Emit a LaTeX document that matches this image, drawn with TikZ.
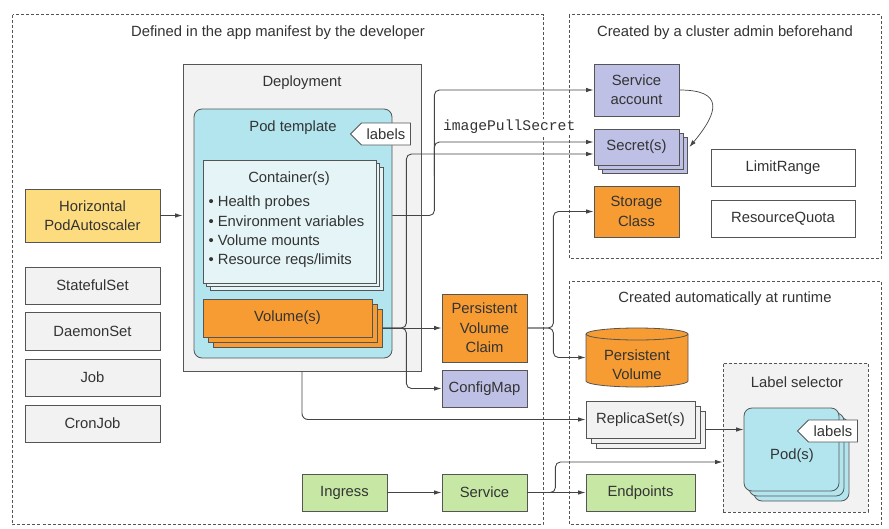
\documentclass[tikz,border=0pt]{standalone}
\usepackage{fontspec}
\setmainfont{Liberation Sans}
\setmonofont{Liberation Mono}
\usetikzlibrary{arrows.meta,shadows,shapes.symbols}

\definecolor{boxgray}{HTML}{F2F2F2}
\definecolor{edgegray}{HTML}{555555}
\definecolor{linegray}{HTML}{444444}
\definecolor{txtgray}{HTML}{333333}
\definecolor{podcyan}{HTML}{B3E5EE}
\definecolor{contcyan}{HTML}{E5F5F7}
\definecolor{volorange}{HTML}{F69C33}
\definecolor{hpayellow}{HTML}{FDDC80}
\definecolor{lavender}{HTML}{BEC0E6}
\definecolor{svcgreen}{HTML}{C6E8A4}

\tikzset{
  every node/.style={font=\fontsize{14.8}{19.3}\selectfont, text=txtgray},
  outline/.style={draw=edgegray, line width=0.8pt},
  box/.style={outline, inner sep=0pt, align=center},
  wh/.style 2 args={minimum width=#1pt, minimum height=#2pt},
  area/.style={draw=edgegray, line width=0.8pt, dash pattern=on 3pt off 2pt},
  tag/.style={shape=signal, signal to=west, outline, fill=white, minimum width=60pt, minimum height=22pt, inner sep=2pt},
  stackthin/.style={copy shadow={shadow xshift=7pt,shadow yshift=-7pt}, copy shadow={shadow xshift=3.5pt,shadow yshift=-3.5pt}},
  stacksec/.style={copy shadow={shadow xshift=8pt,shadow yshift=-8pt}, copy shadow={shadow xshift=4pt,shadow yshift=-4pt}},
  stackwide/.style={copy shadow={shadow xshift=10pt,shadow yshift=-10pt}, copy shadow={shadow xshift=5pt,shadow yshift=-5pt}},
  arr/.style={draw=linegray, line width=0.9pt, -{Latex[length=7.5pt,width=4.5pt]}},
  arrthin/.style={draw=linegray, line width=0.7pt, -{Latex[length=7pt,width=4.5pt]}},
  mono/.style={font=\fontsize{14.7}{17}\ttfamily, fill=white, inner sep=1pt}
}

\begin{document}
\begin{tikzpicture}[x=1pt,y=-1pt]
\useasboundingbox (0,0) rectangle (889,528);
%areas
\draw[area] (12.5,14.5) rectangle (543,524.5);
\draw[area] (569,14.5) rectangle (881,258);
\draw[area] (569,281) rectangle (881,524.5);
\node (devtitle) at (278,33) {Defined in the app manifest by the developer};
\node (admintitle) at (725,33) {Created by a cluster admin beforehand};
\node (autotitle) at (725,299) {Created automatically at runtime};

%deployment and pod template
\node[box, fill=boxgray, wh={238}{307}] (deploy) at (302,217.5) {};
\node (deploytxt) at (302,83) {Deployment};
\node[box, fill=podcyan, rounded corners=8pt, wh={198}{249}] (podtpl) at (293,233.5) {};
\node (podtpltxt) at (293,128) {Pod template};
\node[tag] (tpllabels) at (386,134) {labels};
\node[box, fill=contcyan, stackthin, wh={173}{123}] (cont) at (289.5,221.5) {};
\node (conttxt) at (289,179) {Container(s)};
\node[anchor=west, align=left] (contlist) at (205,232) {• Health probes\\• Environment variables\\• Volume mounts\\• Resource reqs/limits};
\node[box, fill=volorange, stackwide, wh={169}{38}] (vol) at (287.5,318) {Volume(s)};

%left column
\node[box, fill=hpayellow, wh={135}{53}] (hpa) at (92.5,215.5) {Horizontal\\PodAutoscaler};
\node[box, fill=boxgray, wh={135}{37}] (sts) at (92.5,285.5) {StatefulSet};
\node[box, fill=boxgray, wh={135}{38}] (ds) at (92.5,331) {DaemonSet};
\node[box, fill=boxgray, wh={135}{37}] (job) at (92.5,377.5) {Job};
\node[box, fill=boxgray, wh={135}{37}] (cron) at (92.5,423.5) {CronJob};

%middle column
\node[box, fill=volorange, wh={85}{68}] (pvc) at (484.5,328) {Persistent\\Volume\\Claim};
\node[box, fill=lavender, wh={85}{37}] (cm) at (484.5,388.5) {ConfigMap};
\node[box, fill=svcgreen, wh={85}{37}] (ing) at (344.5,492.5) {Ingress};
\node[box, fill=svcgreen, wh={85}{37}] (svc) at (484.5,492.5) {Service};

%cluster admin
\node[box, fill=lavender, wh={85}{52}] (sa) at (636.5,90) {Service\\account};
\node[box, fill=lavender, stacksec, wh={85}{36}] (sec) at (636.5,147) {Secret(s)};
\node[box, fill=volorange, wh={85}{51}] (sc) at (636.5,211.5) {Storage\\Class};
\node[box, fill=white, wh={144}{37}] (lr) at (783,167.5) {LimitRange};
\node[box, fill=white, wh={144}{37}] (rq) at (783,218.5) {ResourceQuota};

%runtime
\node[inner sep=0pt, wh={102}{59}] (pv) at (637,357.5) {};
\draw[outline, fill=volorange] (586,334) -- (586,381) arc[start angle=180, end angle=360, x radius=51pt, y radius=6pt] -- (688,334) arc[start angle=0, end angle=180, x radius=51pt, y radius=6pt] -- cycle;
\draw[outline] (586,334) arc[start angle=180, end angle=360, x radius=51pt, y radius=6pt];
\node[align=center] (pvtxt) at (637,365) {Persistent\\Volume};
\node[box, fill=boxgray, stackwide, wh={109}{37}] (rs) at (640.5,419.5) {ReplicaSet(s)};
\node[box, fill=svcgreen, wh={109}{37}] (ep) at (640.5,492.5) {Endpoints};
\node[area, fill=boxgray, inner sep=0pt, wh={145}{149}] (lsel) at (795.5,437.5) {};
\node (lseltxt) at (797,382) {Label selector};
\node[box, fill=podcyan, rounded corners=8pt, stackwide, wh={95}{83}] (pods) at (791.5,449.5) {};
\node (podstxt) at (792,456) {Pod(s)};
\node[tag] (podlabels) at (833,431) {labels};

%connectors
\coordinate (contout) at (podtpl.east |- hpa.east);
\coordinate (volout) at ([xshift=10pt,yshift=-10pt]vol.east);
\coordinate (rsout) at ([xshift=10pt,yshift=-10pt]rs.east);
\draw[arr] (hpa) -- (hpa -| deploy.west);
\draw[arr, rounded corners=5pt] (contout) -- ++(42,0) |- (sa.west);
\draw[arr, rounded corners=5pt] ([xshift=42pt,yshift=40pt]contout) |- ([yshift=5pt]sec.west)
  node[mono, pos=0.735, yshift=15pt] (ips) {imagePullSecret};
\draw[arr] (volout) -- (pvc.west);
\draw[arr, rounded corners=5pt] (volout) -- ++(24,0) |- ([yshift=-7pt]sec.west);
\draw[arr, rounded corners=5pt] (volout) -- ++(24,0) |- (cm.west);
\draw[arr, rounded corners=5pt] (pvc.east) -- ++(26,0) |- (sc.west);
\draw[arr, rounded corners=5pt] (pvc.east) -- ++(26,0) |- (pv.west);
\draw[arr, rounded corners=6pt] (deploy.south) |- (rs.west);
\draw[arr] (rsout) -- (rsout -| pods.west);
\draw[arr] (ing) -- (svc);
\draw[arr] (svc) -- (ep);
\draw[arr, rounded corners=5pt] (svc.east) -- ++(28,0) |- ([yshift=-24.5pt]lsel.west);
\draw[arrthin] (sa.east) to[out=0, in=50, looseness=2] ([xshift=10pt]sec.east);
\end{tikzpicture}
\end{document}
